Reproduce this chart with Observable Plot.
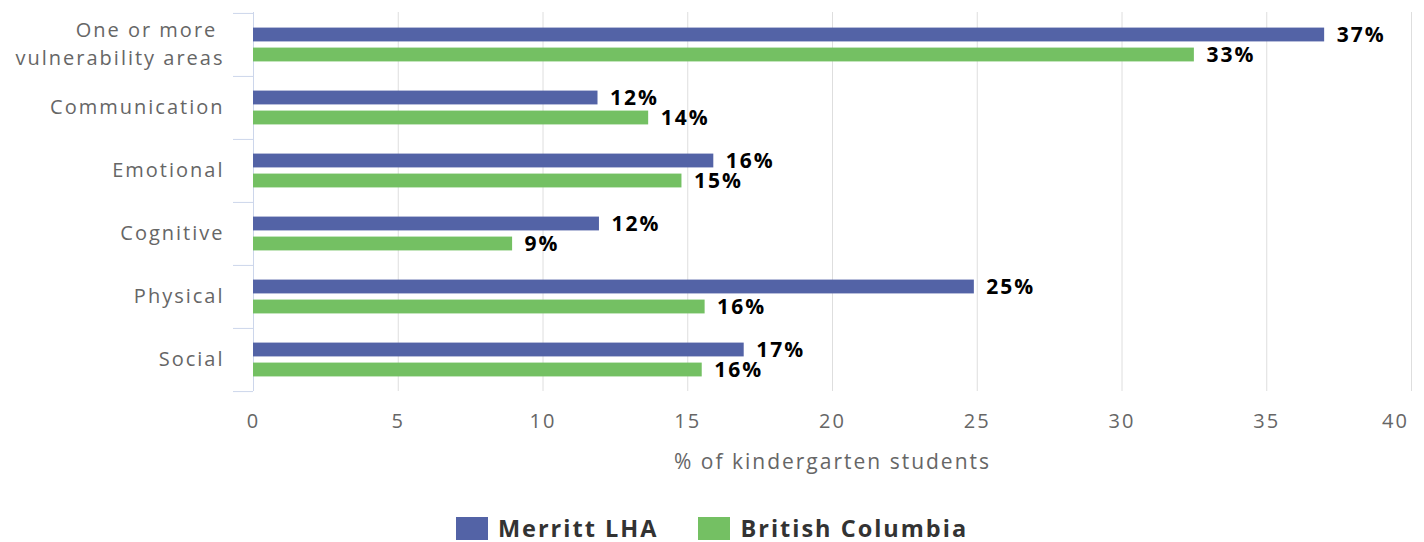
<!DOCTYPE html>
<html>
<head>
<meta charset="utf-8">
<script src="https://cdn.jsdelivr.net/npm/d3@7"></script>
<script src="https://cdn.jsdelivr.net/npm/@observablehq/plot@0.6"></script>
<style>
  html, body { margin: 0; padding: 0; background: #ffffff; }
  body { width: 1424px; font-family: "Open Sans", sans-serif; }
  #chart svg { display: block; }
  #legend { display: flex; justify-content: center; align-items: center; padding-top: 31px; gap: 40px; }
  #legend .item { display: flex; align-items: center; }
  #legend .sw { width: 32px; height: 23px; margin-right: 10px; }
  #legend .lab { font-weight: bold; font-size: 23.5px; letter-spacing: 2px; color: #333333; }
</style>
</head>
<body>
<div id="chart"></div>
<div id="legend"></div>
<script>
// ---- data ----
const categories = ["One or more vulnerability areas", "Communication", "Emotional", "Cognitive", "Physical", "Social"];
const categoryLabels = ["One or more\u00a0\nvulnerability areas", "Communication", "Emotional", "Cognitive", "Physical", "Social"];
const merrittValues = [37.0, 11.9, 15.9, 11.95, 24.9, 16.95];
const bcValues = [32.5, 13.65, 14.8, 8.95, 15.6, 15.5];
const seriesNames = ["Merritt LHA", "British Columbia"];
const seriesColors = ["#5363a6", "#74c063"];
const xTicks = [0, 5, 10, 15, 20, 25, 30, 35, 40];
const xTitle = "% of kindergarten students";

// ---- layout ----
const W = 1424, ML = 253, MR = 13, MT = 12, PH = 379, MB = 90;
const step = PH / categories.length;

const rows = categories.map((c, i) => ({category: c, merritt: merrittValues[i], bc: bcValues[i]}));
const labelOf = new Map(categories.map((c, i) => [c, categoryLabels[i]]));
const fmt = d3.format(".0f");

const textStyle = {fill: "#666666"};

const chart = Plot.plot({
  width: W,
  height: MT + PH + MB,
  marginLeft: ML,
  marginRight: MR,
  marginTop: MT,
  marginBottom: MB,
  style: {fontFamily: '"Open Sans", sans-serif', fontSize: "20px", letterSpacing: "2px", background: "#ffffff", color: "#666666"},
  x: {domain: [0, 40], axis: null, label: null},
  y: {domain: categories, padding: 0, axis: null, label: null},
  marks: [
    Plot.gridX(xTicks, {stroke: "#dedede", strokeOpacity: 1}),
    Plot.ruleX([0], {stroke: "#ccd6eb", strokeOpacity: 1}),
    Plot.axisY({tickSize: 0, tickPadding: 29, dy: -3, label: null, tickFormat: d => labelOf.get(d), lineHeight: 1.4, ...textStyle}),
    Plot.axisY({tickSize: 20, dy: -step / 2, label: null, tickFormat: () => "", stroke: "#ccd6eb", strokeOpacity: 1}),
    Plot.axisY({ticks: [categories[categories.length - 1]], tickSize: 20, dy: step / 2, label: null, tickFormat: () => "", stroke: "#ccd6eb", strokeOpacity: 1}),
    Plot.axisX({ticks: xTicks.slice(0, -1), tickSize: 0, tickPadding: 22, label: null, ...textStyle}),
    Plot.axisX({ticks: xTicks.slice(-1), tickSize: 0, tickPadding: 22, dx: -16, label: null, ...textStyle}),
    Plot.text([xTitle], {text: d => d, frameAnchor: "bottom", dy: 77, fontSize: 21, ...textStyle}),
    Plot.barX(rows, {x: "merritt", y: "category", fill: seriesColors[0], insetTop: step / 2 - 17, insetBottom: step / 2 + 3}),
    Plot.barX(rows, {x: "bc", y: "category", fill: seriesColors[1], insetTop: step / 2 + 3, insetBottom: step / 2 - 17}),
    Plot.text(rows, {x: "merritt", y: "category", text: d => fmt(d.merritt) + "%", dx: 12, dy: -10, textAnchor: "start", fill: "#000000", fontWeight: "bold", fontSize: 21}),
    Plot.text(rows, {x: "bc", y: "category", text: d => fmt(d.bc) + "%", dx: 12, dy: 10, textAnchor: "start", fill: "#000000", fontWeight: "bold", fontSize: 21})
  ]
});
document.getElementById("chart").appendChild(chart);

// ---- legend ----
const legend = document.getElementById("legend");
seriesNames.forEach((name, i) => {
  const item = document.createElement("span");
  item.className = "item";
  const sw = document.createElement("span");
  sw.className = "sw";
  sw.style.background = seriesColors[i];
  const lab = document.createElement("span");
  lab.className = "lab";
  lab.textContent = name;
  item.appendChild(sw);
  item.appendChild(lab);
  legend.appendChild(item);
});
</script>
</body>
</html>
